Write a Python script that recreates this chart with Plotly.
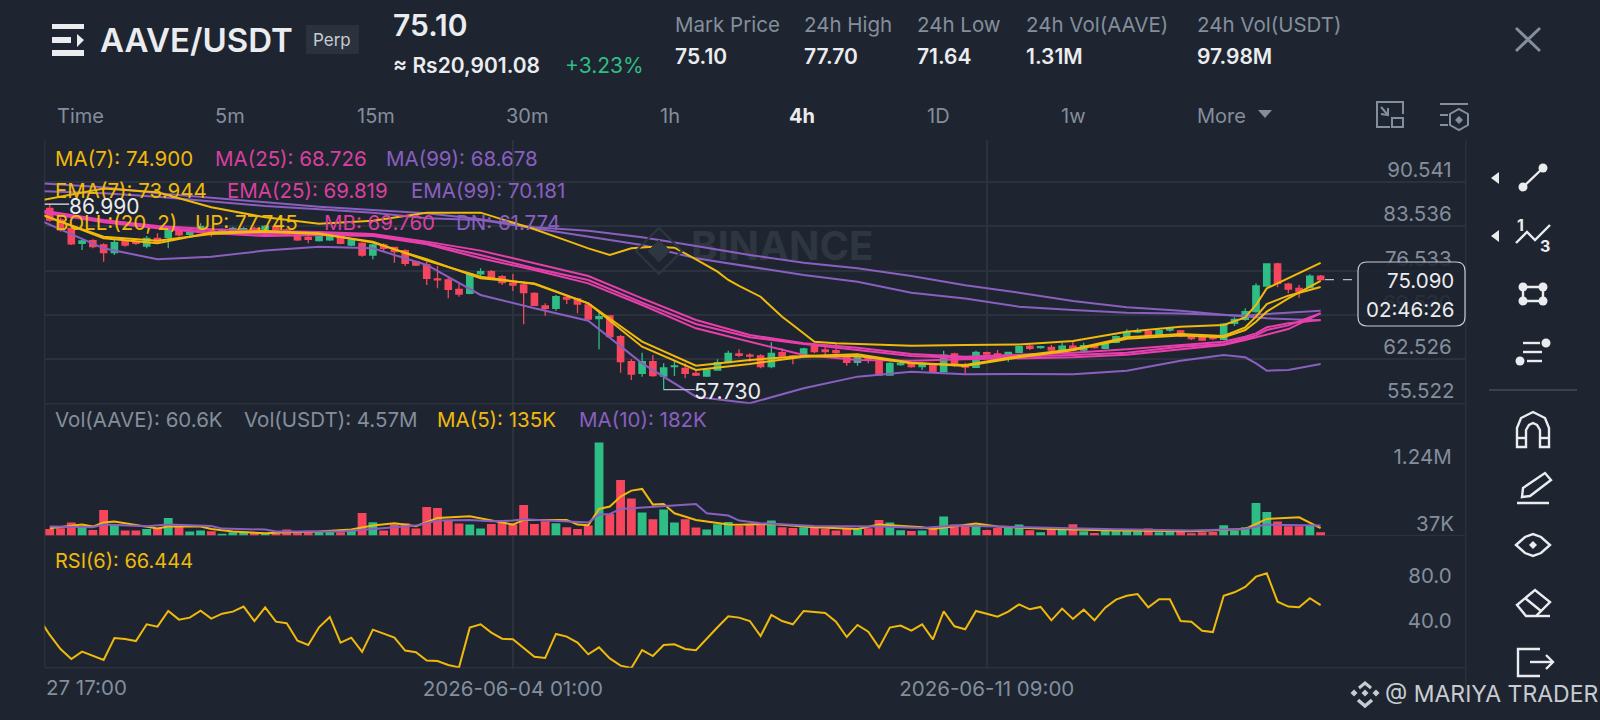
import plotly.graph_objects as go
from plotly.subplots import make_subplots

W, H = 1600, 720
BG = "#1E2530"
GRID = "#2B323D"
GRAY = "#848E9C"
WHITE = "#EAECEF"
GREEN = "#2EBD85"
RED = "#F6465D"
ORANGE = "#F0B90B"
PINK = "#E83FAD"
PINK_TXT = "#D9409F"
PURPLE = "#8A5FC0"

# --- candles, one per 4h (index 0 is just off the left edge) ---
candle_idx = list(range(1, 120))
opens = [86.34, 84.50, 83.19, 80.82, 81.24, 80.56, 79.35, 81.09, 81.09, 80.40,
         81.61, 81.77, 82.93, 82.24, 82.93, 82.93, 82.72, 82.77, 82.77, 83.19,
         82.93, 83.45, 82.93, 82.14, 81.77, 81.24, 81.35, 81.98, 80.56, 80.82,
         78.98, 80.56, 80.19, 79.67, 77.93, 77.40, 75.20, 75.04, 73.57, 72.94,
         75.99, 76.35, 75.56, 74.51, 74.25, 72.93, 70.93, 70.57, 72.30, 72.04,
         71.09, 68.94, 69.36, 66.10, 62.15, 60.31, 62.15, 59.89, 61.36, 61.10,
         60.31, 59.89, 60.84, 61.99, 63.36, 63.20, 63.05, 61.36, 63.57, 63.05,
         62.94, 64.52, 64.00, 63.89, 62.94, 62.05, 62.68, 62.15, 60.05, 61.68,
         61.89, 61.36, 61.79, 60.57, 63.36, 61.70, 61.26, 63.57, 63.36, 62.68,
         63.62, 64.62, 64.36, 64.41, 63.89, 64.62, 63.99, 64.68, 64.25, 65.20,
         66.09, 66.83, 66.88, 66.36, 67.15, 66.99, 66.30, 65.99, 66.20, 65.68,
         68.20, 68.83, 70.04, 74.09, 77.56, 74.40, 73.72, 73.88, 75.66]
highs = [86.99, 84.90, 83.45, 81.35, 81.45, 80.82, 81.35, 81.61, 81.35, 81.98,
         82.40, 83.19, 83.19, 82.82, 83.98, 83.19, 83.19, 83.45, 83.40, 83.45,
         83.71, 83.71, 83.19, 82.40, 81.98, 82.30, 82.30, 82.30, 81.61, 80.98,
         80.72, 80.82, 80.30, 79.88, 78.09, 77.93, 77.25, 75.56, 74.41, 76.20,
         76.88, 76.62, 75.83, 75.99, 74.61, 73.09, 71.36, 72.67, 72.51, 72.25,
         71.25, 70.04, 69.51, 66.36, 62.52, 63.57, 63.20, 61.89, 62.41, 61.89,
         60.84, 61.10, 62.52, 63.89, 64.10, 63.47, 63.31, 65.20, 64.26, 63.20,
         64.36, 64.94, 64.78, 64.94, 63.20, 63.20, 63.20, 62.31, 62.05, 62.15,
         62.10, 62.05, 61.99, 63.89, 63.57, 62.00, 63.89, 63.73, 64.00, 63.73,
         64.68, 64.78, 64.68, 64.78, 65.15, 65.31, 65.15, 64.89, 65.31, 66.30,
         67.25, 67.41, 67.04, 67.30, 67.57, 67.15, 66.46, 66.20, 66.41, 68.25,
         69.14, 70.56, 74.51, 77.61, 77.77, 74.61, 74.25, 75.93, 75.82]
lows = [84.24, 82.66, 80.56, 79.77, 80.03, 77.93, 78.98, 80.30, 80.56, 80.03,
        80.82, 80.03, 81.87, 81.98, 82.66, 81.87, 82.51, 82.61, 82.56, 82.51,
        82.77, 82.66, 81.98, 81.19, 80.82, 81.09, 81.19, 80.67, 80.35, 78.72,
        78.30, 79.51, 77.77, 77.25, 77.25, 74.25, 73.72, 72.15, 72.41, 72.78,
        75.46, 75.14, 74.25, 73.30, 68.04, 70.93, 69.41, 70.20, 71.25, 69.78,
        68.83, 64.10, 66.00, 60.42, 59.26, 59.79, 59.79, 57.73, 59.89, 59.53,
        59.89, 59.73, 60.73, 61.89, 62.84, 62.15, 61.10, 61.10, 62.84, 61.73,
        62.78, 63.47, 63.20, 63.31, 61.52, 61.52, 61.89, 60.00, 59.95, 61.52,
        61.20, 60.84, 60.42, 60.47, 61.36, 60.30, 61.15, 62.68, 62.68, 62.15,
        63.52, 63.99, 64.20, 63.05, 63.73, 64.10, 63.83, 64.20, 64.10, 65.04,
        65.94, 66.62, 66.09, 66.20, 66.88, 65.99, 65.57, 65.41, 65.57, 65.52,
        67.78, 68.62, 69.88, 73.98, 73.88, 72.93, 72.25, 73.72, 74.93]
closes = [84.50, 82.93, 80.72, 81.19, 80.30, 79.35, 80.93, 80.56, 80.82, 81.61,
          81.09, 82.82, 82.14, 82.56, 83.45, 82.30, 82.93, 83.19, 83.14, 82.77,
          83.50, 82.93, 82.30, 81.35, 81.45, 81.98, 81.98, 80.82, 81.35, 78.98,
          80.56, 80.03, 79.51, 77.67, 77.40, 75.30, 75.04, 73.57, 72.83, 75.99,
          76.35, 75.46, 74.62, 74.25, 73.04, 71.04, 70.57, 72.41, 72.04, 71.25,
          68.88, 69.25, 66.10, 62.15, 60.21, 62.15, 59.95, 61.15, 61.47, 60.31,
          60.05, 60.84, 61.99, 63.47, 63.15, 63.05, 61.36, 63.47, 63.05, 62.84,
          64.15, 63.73, 63.73, 63.57, 62.05, 62.94, 62.41, 60.05, 61.89, 61.89,
          61.36, 61.89, 60.57, 63.20, 61.89, 61.30, 63.62, 63.36, 62.94, 63.62,
          64.52, 64.25, 64.52, 63.99, 64.62, 64.25, 64.68, 64.36, 65.04, 66.09,
          66.73, 67.04, 66.36, 67.04, 67.36, 66.25, 65.78, 65.57, 65.78, 68.09,
          68.83, 70.04, 74.09, 77.56, 74.51, 73.61, 73.19, 75.66, 75.09]

# volume in thousands of AAVE
volumes = [120, 132, 234, 162, 102, 462, 198, 90, 90, 120,
           138, 318, 162, 72, 90, 78, 30, 60, 54, 48,
           42, 42, 108, 84, 78, 72, 78, 60, 114, 408,
           240, 90, 198, 222, 126, 516, 498, 270, 216, 198,
           126, 210, 240, 198, 552, 210, 258, 222, 150, 120,
           180, 1674, 390, 1002, 666, 414, 294, 468, 234, 294,
           144, 108, 204, 246, 174, 192, 198, 270, 150, 138,
           150, 174, 120, 90, 120, 114, 132, 282, 234, 96,
           84, 90, 132, 342, 198, 186, 180, 102, 138, 138,
           198, 96, 60, 114, 102, 204, 78, 48, 102, 102,
           90, 78, 126, 60, 78, 78, 42, 60, 66, 186,
           90, 150, 588, 426, 252, 168, 168, 186, 60.6]

vol_ma5_idx = [1, 4, 5, 6, 7, 9, 11, 12, 15, 16, 18, 21, 23, 26, 29, 31, 33, 35, 37, 40,
               42, 44, 45, 49, 50, 51, 52, 53, 54, 55, 56, 57, 58, 59, 61, 63, 64, 65, 68,
               72, 76, 78, 82, 83, 87, 89, 94, 100, 107, 112, 114, 117, 119]
vol_ma5 = [132, 198, 162, 234, 252, 192, 126, 162, 162, 120, 72, 42, 60, 72, 108, 180, 222, 168, 318, 348,
           270, 198, 282, 282, 198, 186, 480, 522, 702, 810, 840, 558, 570, 402, 282, 222, 198, 195, 210,
           150, 120, 198, 150, 120, 216, 162, 120, 90, 78, 120, 300, 330, 135]
vol_ma10_idx = [1, 5, 6, 10, 12, 16, 17, 21, 22, 28, 31, 35, 37, 40, 42, 44, 45, 51, 52, 53,
                54, 57, 61, 62, 64, 65, 67, 72, 78, 82, 85, 89, 94, 100, 107, 110, 112, 114, 119]
vol_ma10 = [162, 150, 198, 168, 198, 174, 126, 108, 72, 72, 120, 180, 270, 282, 258, 270, 294, 234, 378, 390,
            480, 522, 570, 402, 360, 270, 222, 174, 162, 138, 180, 162, 138, 114, 90, 102, 120, 198, 182]

rsi_idx = list(range(0, 120))
rsi6 = [54.6, 39.8, 27.3, 18.4, 25.0, 21.4, 17.6, 37.1, 36.2, 34.4,
        49.3, 47.2, 61.1, 53.4, 55.2, 61.4, 54.3, 58.7, 60.5, 65.0,
        52.2, 64.4, 51.6, 50.2, 34.7, 30.9, 46.6, 55.8, 33.0, 37.4,
        24.7, 44.5, 41.3, 37.4, 25.9, 24.4, 17.0, 16.7, 13.1, 11.0,
        46.3, 49.3, 41.9, 36.5, 35.9, 27.9, 20.5, 19.3, 40.7, 38.3,
        33.0, 22.6, 28.8, 19.0, 12.5, 10.4, 26.4, 21.1, 30.9, 31.5,
        27.3, 26.2, 36.8, 46.6, 56.4, 55.2, 52.2, 38.9, 57.6, 52.2,
        49.3, 61.1, 60.2, 59.3, 51.6, 38.0, 48.7, 42.7, 28.5, 46.3,
        48.1, 43.6, 49.3, 35.9, 60.8, 47.5, 44.8, 61.1, 58.7, 56.1,
        60.5, 67.0, 62.6, 64.7, 52.8, 63.2, 54.0, 62.3, 52.8, 64.1,
        71.2, 74.7, 76.2, 64.4, 71.5, 71.5, 52.2, 51.6, 43.6, 42.4,
        74.7, 77.7, 82.4, 91.6, 94.6, 69.4, 65.0, 64.4, 72.4, 66.4]

# --- moving averages and bands, read at these candles ---
line_idx = [0, 6, 11, 16, 21, 26, 31, 36, 41, 46, 51, 56, 61, 66, 71, 76, 81, 86,
            91, 96, 101, 106, 110, 112, 113, 114, 116, 119]
ma7 = [85.45, 81.87, 81.24, 82.30, 82.66, 82.30, 81.09, 78.09, 75.56, 74.40, 71.36, 65.31, 61.52, 62.42,
       63.05, 63.31, 62.00, 61.47, 62.83, 63.94, 65.78, 66.30, 65.99, 67.15, 68.46, 70.04, 72.14, 74.90]
ema7 = [85.55, 81.61, 80.82, 82.51, 82.77, 82.40, 80.93, 78.30, 75.30, 74.50, 71.36, 64.52, 60.84, 61.79,
        62.94, 63.05, 61.90, 61.62, 63.04, 64.10, 65.99, 66.51, 66.20, 67.57, 69.25, 71.25, 72.56, 73.94]
ma25 = [86.08, 84.50, 83.56, 83.03, 82.77, 82.61, 82.30, 81.09, 79.67, 77.66, 75.67, 72.14, 68.72, 66.36,
        65.05, 64.36, 63.36, 62.94, 63.20, 63.57, 64.10, 64.78, 65.31, 66.10, 66.62, 67.57, 68.20, 68.73]
ema25 = [85.92, 84.29, 83.35, 82.66, 82.30, 82.40, 82.14, 80.82, 78.98, 76.88, 75.04, 71.46, 68.10, 65.99,
         64.94, 63.99, 63.05, 62.73, 62.94, 63.20, 63.57, 64.52, 64.94, 65.78, 66.30, 67.15, 67.88, 69.82]
boll_mb = [85.77, 84.14, 83.19, 82.40, 81.98, 82.14, 81.98, 80.67, 78.46, 76.61, 74.50, 71.09, 67.41, 65.31,
           63.20, 62.42, 62.31, 62.52, 62.62, 62.84, 63.25, 64.10, 64.78, 65.57, 65.99, 66.51, 67.30, 69.76]
ma99 = [90.29, 89.66, 88.71, 88.03, 87.24, 86.61, 86.08, 85.55, 84.61, 83.34, 82.82, 81.77, 80.40, 78.98,
        77.77, 76.88, 75.67, 74.20, 73.03, 71.72, 70.72, 70.20, 69.56, 69.35, 69.14, 68.99, 68.83, 68.68]
ema99 = [89.08, 88.71, 88.18, 87.40, 86.71, 86.19, 85.66, 84.77, 84.50, 83.19, 81.87, 80.55, 78.45, 77.14,
         75.82, 74.77, 73.03, 72.10, 70.83, 70.30, 69.88, 69.77, 69.46, 69.41, 69.57, 69.67, 69.88, 70.18]
boll_dn = [84.50, 80.03, 78.30, 78.72, 79.67, 80.30, 80.03, 77.41, 72.67, 70.57, 68.62, 61.89, 56.63, 55.60,
           57.95, 59.79, 60.57, 60.15, 60.20, 60.15, 60.73, 62.31, 63.20, 62.84, 61.89, 60.73, 60.84, 61.77]
boll_up_idx = [0, 6, 11, 16, 21, 26, 31, 36, 41, 46, 49, 51, 53, 55, 57, 59, 61, 63, 64, 65, 67, 69, 70, 72,
               74, 81, 86, 91, 96, 101, 106, 110, 112, 113, 114, 116, 119]
boll_up = [87.55, 89.45, 88.87, 86.50, 84.92, 83.92, 84.40, 85.66, 85.66, 83.03, 81.24, 80.03, 78.98, 80.03,
           80.29, 80.14, 78.30, 76.35, 75.04, 74.09, 72.40, 69.25, 67.94, 65.30, 65.05, 64.68, 64.78, 64.88,
           65.41, 66.88, 67.67, 67.93, 69.14, 71.09, 73.72, 75.30, 77.75]

# 55.522 and 37K sit on the panel edge, plotly drops edge labels so they become notes further down
price_ticks = [90.541, 83.536, 76.533, 69.530, 62.526]
price_labels = ["90.541", "83.536", "76.533", "69.530", "62.526"]
vol_ticks = [1240]
vol_labels = ["1.24M"]
rsi_ticks = [80, 40]
rsi_labels = ["80.0", "40.0"]
time_ticks = [44, 88]
time_labels = ["2026-06-04 01:00", "2026-06-11 09:00"]
tabs = ["Time", "5m", "15m", "30m", "1h", "4h", "1D", "1w", "More"]
tab_x = [57, 230, 376, 527, 670, 802, 938, 1073, 1221]
stat_heads = ["Mark Price", "24h High", "24h Low", "24h Vol(AAVE)", "24h Vol(USDT)"]
stat_vals = ["75.10", "77.70", "71.64", "1.31M", "97.98M"]
stat_x = [675, 804, 917, 1026, 1197]

FONT = "Inter"


def P(x, y):
    return f"{x / W:.5f},{1 - y / H:.5f}"


def poly(pts, color=WHITE, width=2.4, fill=None, closed=False):
    path = "M" + " L".join(P(x, y) for x, y in pts) + (" Z" if closed else "")
    return dict(type="path", xref="paper", yref="paper", path=path, layer="above",
                line=dict(color=color, width=width), fillcolor=fill)


def dot(cx, cy, r, color=WHITE):
    return dict(type="circle", xref="paper", yref="paper", layer="above",
                x0=(cx - r) / W, x1=(cx + r) / W, y0=1 - (cy + r) / H, y1=1 - (cy - r) / H,
                fillcolor=color, line=dict(color=color, width=0))


def hline(x0, x1, y, color=GRID, width=1.5):
    return dict(type="line", xref="paper", yref="paper", x0=x0 / W, x1=x1 / W,
                y0=1 - y / H, y1=1 - y / H, line=dict(color=color, width=width), layer="below")


def vline(x, y0, y1, color=GRID, width=1.5):
    return dict(type="line", xref="paper", yref="paper", x0=x / W, x1=x / W,
                y0=1 - y0 / H, y1=1 - y1 / H, line=dict(color=color, width=width), layer="below")


def label(text, x, y, color=GRAY, size=20, anchor="left", weight=400):
    # annotations carry a small inner pad, take it off left aligned text
    nudge = {"left": -2.5, "right": 1.5, "center": 0}[anchor]
    return dict(text=text, x=(x + nudge) / W, y=1 - y / H,
                xref="paper", yref="paper", xanchor=anchor, yanchor="middle",
                showarrow=False, font=dict(color=color, size=size, family=FONT, weight=weight))


fig = make_subplots(rows=3, cols=1, shared_xaxes=True, vertical_spacing=0)

# watermark goes first so the lines pass over it
fig.add_trace(go.Scatter(x=[69], y=[79.77], mode="text", text=["<b>BINANCE</b>"],
                         textfont=dict(color="#2E3641", size=40, family=FONT),
                         hoverinfo="skip"), row=1, col=1)

fig.add_trace(go.Candlestick(x=candle_idx, open=opens, high=highs, low=lows, close=closes,
                             increasing=dict(line=dict(color=GREEN, width=1.3), fillcolor=GREEN),
                             decreasing=dict(line=dict(color=RED, width=1.3), fillcolor=RED),
                             whiskerwidth=0, hoverinfo="skip"), row=1, col=1)

for xs, ys, col in [(line_idx, ma99, PURPLE), (line_idx, ema99, PURPLE), (line_idx, boll_dn, PURPLE),
                    (line_idx, ma25, PINK), (line_idx, ema25, PINK), (line_idx, boll_mb, PINK),
                    (boll_up_idx, boll_up, ORANGE), (line_idx, ma7, ORANGE), (line_idx, ema7, ORANGE)]:
    fig.add_trace(go.Scatter(x=xs, y=ys, mode="lines", line=dict(color=col, width=2),
                             hoverinfo="skip"), row=1, col=1)

bar_colors = [GREEN if c >= o else RED for o, c in zip(opens, closes)]
fig.add_trace(go.Bar(x=candle_idx, y=volumes, marker=dict(color=bar_colors, line_width=0),
                     width=0.82, hoverinfo="skip"), row=2, col=1)
fig.add_trace(go.Scatter(x=vol_ma5_idx, y=vol_ma5, mode="lines", line=dict(color=ORANGE, width=2),
                         hoverinfo="skip"), row=2, col=1)
fig.add_trace(go.Scatter(x=vol_ma10_idx, y=vol_ma10, mode="lines", line=dict(color=PURPLE, width=2),
                         hoverinfo="skip"), row=2, col=1)

fig.add_trace(go.Scatter(x=rsi_idx, y=rsi6, mode="lines", line=dict(color=ORANGE, width=2),
                         hoverinfo="skip"), row=3, col=1)

# panel box, in picture pixels
LEFT, RIGHT = 44.6, 1465.7
TOP, PRICE_BOT, VOL_BOT, RSI_BOT = 140.0, 403.7, 535.6, 667.7

fig.update_xaxes(domain=[LEFT / W, RIGHT / W], range=[0.52, 132.47], tickvals=time_ticks,
                 ticktext=time_labels, showgrid=True, gridcolor=GRID, gridwidth=1.5,
                 zeroline=False, showline=False, ticks="", rangeslider_visible=False,
                 tickfont=dict(color=GRAY, size=20.5, family=FONT))
fig.update_xaxes(showticklabels=False, row=1, col=1)
fig.update_xaxes(showticklabels=False, row=2, col=1)
fig.update_xaxes(showticklabels=True, ticklabelstandoff=7, row=3, col=1)

y_common = dict(side="right", ticklabelposition="inside", ticklabelstandoff=11, zeroline=False,
                ticks="", showline=False, tickfont=dict(color=GRAY, size=20.5, family=FONT))
fig.update_yaxes(domain=[1 - PRICE_BOT / H, 1 - TOP / H], range=[55.522, 97.12], tickvals=price_ticks,
                 ticktext=price_labels, showgrid=True, gridcolor=GRID, gridwidth=1.5,
                 ticklabelshift=-12, row=1, col=1, **y_common)
fig.update_yaxes(domain=[1 - VOL_BOT / H, 1 - PRICE_BOT / H], range=[0, 2374], tickvals=vol_ticks,
                 ticktext=vol_labels, showgrid=False, ticklabelshift=-10, row=2, col=1, **y_common)
fig.update_yaxes(domain=[1 - RSI_BOT / H, 1 - VOL_BOT / H], range=[10.7, 128.1], tickvals=rsi_ticks,
                 ticktext=rsi_labels, showgrid=False, ticklabelshift=-14, row=3, col=1, **y_common)

shapes = [
    vline(LEFT, TOP, RSI_BOT), vline(RIGHT, TOP, 700),
    hline(LEFT, RIGHT, PRICE_BOT), hline(LEFT, RIGHT, VOL_BOT), hline(LEFT, RIGHT, RSI_BOT),
    # high / low markers and last price leader, on the price axis
    dict(type="line", xref="x", yref="y", x0=0.5, x1=2.8, y0=86.99, y1=86.99,
         line=dict(color=WHITE, width=1.2)),
    dict(type="line", xref="x", yref="y", x0=58, x1=60.9, y0=57.73, y1=57.73,
         line=dict(color="#B7BDC6", width=1.2)),
    dict(type="line", xref="x", yref="y", x0=119.4, x1=122.2, y0=75.09, y1=75.09,
         line=dict(color="#B7BDC6", width=1.2, dash="dash")),
]

# last price bubble sits over the axis labels
bx0, bx1, by0, by1, br = 1358, 1465, 262, 326, 9
bubble = (f"M{P(bx0 + br, by0)} L{P(bx1 - br, by0)} Q{P(bx1, by0)} {P(bx1, by0 + br)} "
          f"L{P(bx1, by1 - br)} Q{P(bx1, by1)} {P(bx1 - br, by1)} L{P(bx0 + br, by1)} "
          f"Q{P(bx0, by1)} {P(bx0, by1 - br)} L{P(bx0, by0 + br)} Q{P(bx0, by0)} {P(bx0 + br, by0)} Z")
shapes.append(dict(type="path", xref="paper", yref="paper", path=bubble, layer="above",
                   fillcolor="rgba(30,37,48,0.9)", line=dict(color="#C8CDD4", width=1.2)))

# watermark diamond
shapes += [poly([(659, 228), (682, 251), (659, 274), (636, 251)], color="#2E3641", width=2, closed=True),
           poly([(659, 240), (670, 251), (659, 262), (648, 251)], color="#2E3641", width=1, fill="#2E3641", closed=True)]

# header menu icon
shapes += [poly([(52, 24), (84, 24), (84, 29), (52, 29)], width=0, fill=WHITE, closed=True),
           poly([(52, 37), (71, 37), (71, 43), (52, 43)], width=0, fill=WHITE, closed=True),
           poly([(52, 50), (84, 50), (84, 56), (52, 56)], width=0, fill=WHITE, closed=True),
           poly([(77, 34), (84, 40), (77, 47)], width=0, fill=WHITE, closed=True)]
# Perp badge
shapes.append(poly([(306, 25), (359, 25), (359, 54), (306, 54)], color="#2B323D", width=0, fill="#2B323D", closed=True))
# close cross
shapes += [poly([(1516, 28), (1540, 51)], color=GRAY, width=3), poly([(1540, 28), (1516, 51)], color=GRAY, width=3)]
# More triangle
shapes.append(poly([(1258, 110), (1272, 110), (1265, 118)], color=GRAY, width=0, fill=GRAY, closed=True))
# two toolbar icons at the end of the tab row
shapes += [poly([(1390, 127), (1377, 127), (1377, 102), (1403, 102), (1403, 114)], color=GRAY, width=2),
           poly([(1392, 118), (1403, 118), (1403, 127), (1392, 127)], color=GRAY, width=2, closed=True),
           poly([(1381, 107), (1388, 115)], color=GRAY, width=2),
           poly([(1381, 114), (1388, 115), (1388, 108)], color=GRAY, width=2),
           poly([(1440, 104), (1468, 104)], color=GRAY, width=2),
           poly([(1440, 115), (1448, 115)], color=GRAY, width=2), poly([(1440, 125), (1448, 125)], color=GRAY, width=2),
           poly([(1459, 109), (1468, 114), (1468, 125), (1459, 130), (1450, 125), (1450, 114)], color=GRAY, width=2, closed=True),
           poly([(1459, 116), (1463, 120), (1459, 124), (1455, 120)], color=GRAY, width=0, fill=GRAY, closed=True)]

# right hand tools
SB = WHITE
shapes += [poly([(1491, 178), (1499, 172), (1499, 184)], width=0, fill=SB, closed=True),
           poly([(1491, 236), (1499, 230), (1499, 242)], width=0, fill=SB, closed=True),
           poly([(1523, 187), (1543, 168)]), dot(1523, 187, 4.5), dot(1543, 168, 4.5),
           poly([(1516, 243), (1527, 232), (1535, 240), (1550, 225)]),
           poly([(1523, 287), (1543, 287), (1543, 301), (1523, 301)], closed=True),
           dot(1523, 287, 4.5), dot(1543, 287, 4.5), dot(1523, 301, 4.5), dot(1543, 301, 4.5),
           poly([(1523, 343), (1540, 343)]), poly([(1523, 352), (1542, 352)]), poly([(1527, 361), (1542, 361)]),
           dot(1546, 343, 4.5), dot(1520, 361, 4.5),
           hline(1489, 1577, 390, color="#3A424E", width=2),
           # magnet
           poly([(1517, 447), (1517, 428), (1521, 418), (1533, 412), (1545, 418), (1549, 428), (1549, 447),
                 (1540, 447), (1540, 430), (1537, 425), (1533, 423), (1529, 425), (1526, 430), (1526, 447)], closed=True),
           poly([(1517, 438), (1526, 438)]), poly([(1540, 438), (1549, 438)]),
           # pencil
           poly([(1523, 488), (1545, 473), (1551, 480), (1530, 496), (1522, 497)], closed=True),
           poly([(1517, 503), (1549, 503)]),
           # eye
           poly([(1516, 545), (1525, 537), (1533, 534), (1541, 537), (1550, 545), (1541, 553), (1533, 556), (1525, 553)], closed=True),
           poly([(1533, 541), (1537, 545), (1533, 549), (1529, 545)], width=0, fill=SB, closed=True),
           # eraser
           poly([(1517, 605), (1535, 590), (1550, 602), (1536, 616), (1526, 616)], closed=True),
           poly([(1525, 598), (1541, 611)]), poly([(1536, 616), (1550, 616)]),
           # exit
           poly([(1540, 649), (1518, 649), (1518, 676), (1540, 676)]),
           poly([(1530, 662), (1553, 662)]), poly([(1546, 655), (1553, 662), (1546, 669)])]

# small logo by the bottom credit
LOGO = "#C8CCD1"
for cx, cy in [(1365, 693), (1354, 693), (1376, 693)]:
    shapes.append(poly([(cx, cy - 3.5), (cx + 3.5, cy), (cx, cy + 3.5), (cx - 3.5, cy)], color=LOGO, width=0, fill=LOGO, closed=True))
shapes += [poly([(1359, 688), (1365, 683), (1371, 688)], color=LOGO, width=3),
           poly([(1358, 700), (1365, 706), (1372, 700)], color=LOGO, width=3.5)]

notes = [
    label("AAVE/USDT", 100, 40, WHITE, 33, weight=600),
    label("Perp", 332, 40, "#C7CCD3", 17, anchor="center"),
    label("75.10", 393, 25, WHITE, 30, weight=600),
    label("≈ Rs20,901.08", 393, 65, WHITE, 21, weight=600),
    label("+3.23%", 565, 65, GREEN, 21),
    label("MA(7): 74.900", 55.7, 158.5, ORANGE, 20.5),
    label("MA(25): 68.726", 215, 158.5, PINK_TXT, 20.5),
    label("MA(99): 68.678", 386.7, 158.5, PURPLE, 20.5),
    label("EMA(7): 73.944", 55.7, 191, ORANGE, 20.5),
    label("EMA(25): 69.819", 227, 191, PINK_TXT, 20.5),
    label("EMA(99): 70.181", 411.7, 191, PURPLE, 20.5),
    label("BOLL:(20, 2)", 55.7, 222.5, ORANGE, 20.5),
    label("UP: 77.745", 195, 222.5, ORANGE, 20.5),
    label("MB: 69.760", 324, 222.5, PINK_TXT, 20.5),
    label("DN: 61.774", 456, 222.5, PURPLE, 20.5),
    label("Vol(AAVE): 60.6K", 55.6, 419, GRAY, 20.5),
    label("Vol(USDT): 4.57M", 244.5, 419, GRAY, 20.5),
    label("MA(5): 135K", 437, 419, ORANGE, 20.5),
    label("MA(10): 182K", 579, 419, PURPLE, 20.5),
    label("RSI(6): 66.444", 55.6, 560.7, ORANGE, 20),
    label("27 17:00", 46, 687, GRAY, 20.5),
    label("86.990", 69, 206, WHITE, 21),
    label("57.730", 694, 391, WHITE, 21.5),
    label("75.090", 1454, 281, WHITE, 20.5, anchor="right"),
    label("02:46:26", 1454, 309, WHITE, 20.5, anchor="right"),
    label("55.522", 1454, 391, GRAY, 20.5, anchor="right"),
    label("37K", 1454, 523, GRAY, 20.5, anchor="right"),
    label("@ MARIYA TRADER", 1385, 694, "#C8CCD1", 23),
    label("1", 1520, 225, WHITE, 16, anchor="center", weight=700),
    label("3", 1545, 246, WHITE, 16, anchor="center", weight=700),
]
for name, x in zip(tabs, tab_x):
    active = name == "4h"
    notes.append(label(name, x, 116, WHITE if active else GRAY, 20, weight=700 if active else 400,
                       anchor="center" if x > 57 else "left"))
for head, val, x in zip(stat_heads, stat_vals, stat_x):
    notes.append(label(head, x, 25, GRAY, 20.5))
    notes.append(label(val, x, 57, WHITE, 21, weight=600))

fig.update_layout(
    width=W, height=H, margin=dict(l=0, r=0, t=0, b=0),
    paper_bgcolor=BG, plot_bgcolor=BG, showlegend=False, boxgap=0.16,
    font=dict(family=FONT, color=GRAY), bargap=0.18,
    shapes=shapes, annotations=notes,
)

# drop the browser's default page margin so the figure fills the window
fig.write_html("out.html", config=dict(displayModeBar=False),
               post_script="document.body.style.margin='0';document.body.style.background='#1E2530';")
